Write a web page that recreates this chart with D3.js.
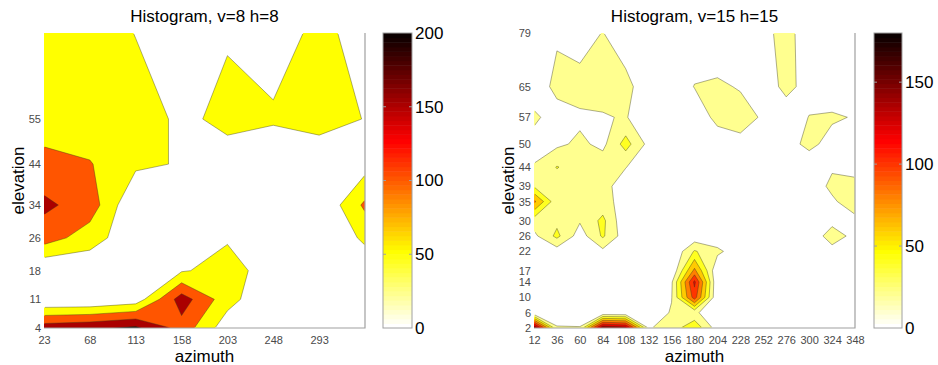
<!DOCTYPE html>
<html>
<head>
<meta charset="utf-8">
<script src="https://cdn.jsdelivr.net/npm/d3@7"></script>
<style>
  body { margin: 0; background: #fff; }
  svg text { font-family: "Liberation Sans", Arial, sans-serif; }
</style>
</head>
<body>
<svg id="chart" width="938" height="365"></svg>
<script>

// left panel: histogram v=8 h=8
const titleA = 'Histogram, v=8 h=8';
const azimuthA = [23, 68, 113, 158, 203, 248, 293, 338];
const elevationA = [4, 11, 18, 26, 34, 44, 55, 76];
const azimuthTicksA = [23, 68, 113, 158, 203, 248, 293];
const elevationTicksA = [4, 11, 18, 26, 34, 44, 55];
const levelsA = [50, 100, 150, 200];
const colorMaxA = 200;
const colorTicksA = [0, 50, 100, 150, 200];
// one row per elevation, lowest first
const countsA = [
    [178, 190, 210, 131, 20, 0, 0, 0],
    [0, 0, 20, 175, 70, 0, 0, 0],
    [0, 10, 0, 45, 70, 26, 0, 15],
    [125, 74, 12, 0, 45, 0, 0, 60],
    [160, 128, 0, 0, 0, 0, 0, 110],
    [118, 103, 60, 46, 25, 0, 5, 28],
    [71, 70, 80, 38, 64, 58, 75, 48],
    [80, 88, 48, 0, 45, 22, 65, 28]
];

// right panel: histogram v=15 h=15
const titleB = 'Histogram, v=15 h=15';
const azimuthB = [12, 36, 60, 84, 108, 132, 156, 180, 204, 228, 252, 276, 300, 324, 348];
const elevationB = [2, 6, 10, 14, 17, 22, 26, 30, 35, 39, 44, 50, 57, 65, 79];
const levelsB = [20, 40, 60, 80, 100, 120, 140, 160, 180];
const colorMaxB = 180;
const colorTicksB = [0, 50, 100, 150];
const countsB = [
    [165, 23, 22, 160, 150, 18, 30, 55, 10, 0, 0, 0, 0, 0, 0],
    [0, 0, 0, 0, 0, 5, 22, 25, 0, 0, 0, 0, 0, 0, 0],
    [0, 0, 0, 0, 0, 0, 19, 110, 0, 0, 0, 0, 0, 0, 0],
    [0, 0, 0, 0, 0, 0, 17, 125, 0, 0, 0, 0, 0, 0, 0],
    [0, 0, 0, 0, 0, 0, 2, 85, 2, 0, 0, 0, 0, 0, 0],
    [0, 10, 0, 15, 0, 0, 0, 42, 25, 6, 0, 0, 0, 14, 0],
    [15, 45, 10, 43, 8, 0, 0, 6, 5, 0, 0, 0, 8, 28, 15],
    [30, 35, 22, 45, 3, 0, 0, 0, 0, 0, 0, 0, 0, 15, 15],
    [85, 25, 28, 28, 11, 0, 0, 0, 0, 0, 0, 0, 0, 17, 30],
    [38, 30, 30, 30, 5, 0, 0, 0, 0, 0, 0, 0, 9, 24, 35],
    [22, 41, 30, 32, 21, 0, 0, 0, 0, 0, 0, 0, 0, 18, 3],
    [10, 16, 24, 15, 48, 14, 0, 0, 4, 13, 0, 8, 28, 9, 0],
    [25, 8, 16, 18, 22, 0, 0, 2, 28, 30, 17, 0, 21, 24, 18],
    [3, 28, 30, 30, 30, 0, 0, 21, 24, 18, 0, 30, 7, 0, 0],
    [0, 16, 7, 21, 0, 0, 0, 0, 0, 0, 12, 30, 4, 0, 0]
];

const svg = d3.select('#chart');
const frameColor = '#a0a0a0';

// matlab flipud(hot(64)), picked the same way contourf picks colours
function hotFlip(v, vmax) {
    const j = Math.max(1, Math.min(64, Math.floor(v / vmax * 64) + 1));
    const k = 65 - j;
    const r = Math.min(k / 24, 1);
    const g = Math.max(0, Math.min((k - 24) / 24, 1));
    const b = Math.max(0, Math.min((k - 48) / 16, 1));
    return d3.rgb(r * 255, g * 255, b * 255).formatHex();
}

function drawPanel(p) {

    const g = svg.append('g');
    const n = p.azimuth.length;
    const m = p.elevation.length;

    // scales
    const x = d3.scaleLinear().domain(d3.extent(p.azimuth)).range([p.x0, p.x1]);
    const y = d3.scaleLinear().domain(d3.extent(p.elevation)).range([p.y1, p.y0]);

    // contour grid coords -> azimuth / elevation (values sit at i + 0.5)
    const gx = d3.scaleLinear().domain(d3.range(n)).range(p.azimuth).clamp(true);
    const gy = d3.scaleLinear().domain(d3.range(m)).range(p.elevation).clamp(true);
    const path = d3.geoPath(d3.geoTransform({
        point(px, py) { this.stream.point(x(gx(px - 0.5)), y(gy(py - 0.5))); }
    }));

    const contours = d3.contours()
        .size([n, m])
        .thresholds(p.levels)(p.counts.flat());

    // clip paths
    svg.append('clipPath').attr('id', `fill-${p.id}`)
        .append('rect')
        .attr('x', p.x0).attr('y', p.y0)
        .attr('width', p.x1 - p.x0).attr('height', p.y1 - p.y0);
    svg.append('clipPath').attr('id', `line-${p.id}`)
        .append('rect')
        .attr('x', p.x0 + 1).attr('y', p.y0 + 1)
        .attr('width', p.x1 - p.x0 - 2).attr('height', p.y1 - p.y0 - 2);

    // filled levels
    g.append('g')
        .attr('clip-path', `url(#fill-${p.id})`)
        .selectAll('path')
        .data(contours)
        .join('path')
        .attr('d', path)
        .attr('fill', d => hotFlip(d.value, p.colorMax));

    // contour lines
    g.append('g')
        .attr('clip-path', `url(#line-${p.id})`)
        .selectAll('path')
        .data(contours)
        .join('path')
        .attr('d', path)
        .attr('fill', 'none')
        .attr('stroke', '#3a3a1a')
        .attr('stroke-opacity', 0.45)
        .attr('stroke-width', 0.9);

    // frame (bottom + right)
    g.append('path')
        .attr('d', `M${p.x0},${p.y1}H${p.x1}V${p.y0}`)
        .attr('fill', 'none')
        .attr('stroke', frameColor)
        .attr('stroke-width', 1.2);

    // axes
    const xAxisGroup = g.append('g').attr('transform', `translate(0,${p.y1})`);
    xAxisGroup.call(d3.axisBottom(x).tickValues(p.azimuthTicks).tickFormat(d3.format('d')).tickSize(0).tickPadding(8));
    const yAxisGroup = g.append('g').attr('transform', `translate(${p.x0},0)`);
    yAxisGroup.call(d3.axisLeft(y).tickValues(p.elevationTicks).tickFormat(d3.format('d')).tickSize(0).tickPadding(3));

    [xAxisGroup, yAxisGroup].forEach(a => {
        a.select('.domain').remove();
        a.attr('font-family', null).attr('font-size', 11);
        a.selectAll('text').attr('fill', '#4a4a4a');
    });

    // labels
    g.append('text')
        .attr('x', (p.x0 + p.x1) / 2)
        .attr('y', 22)
        .attr('text-anchor', 'middle')
        .attr('font-size', 17)
        .text(p.title);

    g.append('text')
        .attr('x', (p.x0 + p.x1) / 2)
        .attr('y', 361.5)
        .attr('text-anchor', 'middle')
        .attr('font-size', 17)
        .text('azimuth');

    g.append('text')
        .attr('transform', `translate(${p.x0 - 20},${(p.y0 + p.y1) / 2}) rotate(-90)`)
        .attr('text-anchor', 'middle')
        .attr('font-size', 17)
        .text('elevation');

    // colorbar
    const cScale = d3.scaleLinear().domain([0, p.colorMax]).range([p.y1, p.y0]);
    const bands = d3.range(64);
    const bar = g.append('g');
    bar.selectAll('rect')
        .data(bands)
        .join('rect')
        .attr('x', p.cb0)
        .attr('width', p.cbWidth)
        .attr('y', i => cScale((i + 1) / 64 * p.colorMax))
        .attr('height', i => cScale(i / 64 * p.colorMax) - cScale((i + 1) / 64 * p.colorMax) + 0.5)
        .attr('fill', i => hotFlip((i + 0.5) / 64 * p.colorMax, p.colorMax));

    bar.append('rect')
        .attr('x', p.cb0).attr('y', p.y0)
        .attr('width', p.cbWidth).attr('height', p.y1 - p.y0)
        .attr('fill', 'none')
        .attr('stroke', frameColor);

    const cAxisGroup = g.append('g').attr('transform', `translate(${p.cb0 + p.cbWidth},0)`);
    cAxisGroup.call(d3.axisRight(cScale).tickValues(p.colorTicks).tickSize(0).tickPadding(3));
    cAxisGroup.select('.domain').remove();
    cAxisGroup.attr('font-family', null).attr('font-size', 17);
    cAxisGroup.selectAll('text').attr('fill', '#000');

    // small inner ticks on the colorbar
    const inner = p.colorTicks.filter(t => t > 0 && t < p.colorMax);
    bar.selectAll('line.ctick')
        .data(inner)
        .join('line')
        .attr('class', 'ctick')
        .attr('x1', p.cb0).attr('x2', p.cb0 + 3)
        .attr('y1', d => cScale(d)).attr('y2', d => cScale(d))
        .attr('stroke', frameColor);
    bar.selectAll('line.ctick2')
        .data(inner)
        .join('line')
        .attr('class', 'ctick2')
        .attr('x1', p.cb0 + p.cbWidth - 3).attr('x2', p.cb0 + p.cbWidth)
        .attr('y1', d => cScale(d)).attr('y2', d => cScale(d))
        .attr('stroke', frameColor);
}

drawPanel({
    id: 'a', title: titleA,
    azimuth: azimuthA, elevation: elevationA,
    azimuthTicks: azimuthTicksA, elevationTicks: elevationTicksA,
    levels: levelsA, colorMax: colorMaxA, colorTicks: colorTicksA, counts: countsA,
    x0: 44, x1: 365, y0: 33, y1: 328, cb0: 383, cbWidth: 29
});

drawPanel({
    id: 'b', title: titleB,
    azimuth: azimuthB, elevation: elevationB,
    azimuthTicks: azimuthB, elevationTicks: elevationB,
    levels: levelsB, colorMax: colorMaxB, colorTicks: colorTicksB, counts: countsB,
    x0: 534, x1: 855, y0: 33, y1: 328, cb0: 874, cbWidth: 28
});

</script>
</body>
</html>
